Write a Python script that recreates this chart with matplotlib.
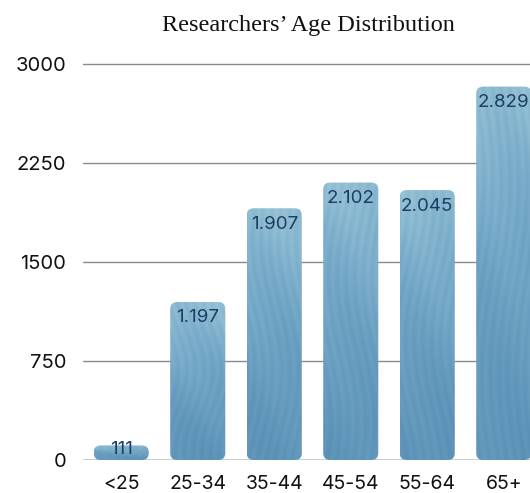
import numpy as np
import matplotlib
matplotlib.use("Agg")
import matplotlib.pyplot as plt
from matplotlib.patches import FancyBboxPatch
from matplotlib.colors import LinearSegmentedColormap

categories = ["<25", "25-34", "35-44", "45-54", "55-64", "65+"]
values = [111, 1197, 1907, 2102, 2045, 2829]
y_ticks = [0, 750, 1500, 2250, 3000]
title = "Researchers\u2019 Age Distribution"

W, H, DPI = 530, 493, 100
fig = plt.figure(figsize=(W / DPI, H / DPI), dpi=DPI)

# axes geometry in pixels
ax_left, ax_right = 83, 542
ax_bottom = 33
y_max = 3100
px_per_val = 396 / 3000
ax_h = y_max * px_per_val
ax = fig.add_axes([ax_left / W, ax_bottom / H, (ax_right - ax_left) / W, ax_h / H])
ax.set_xlim(-0.5, len(categories) - 0.5)
ax.set_ylim(0, y_max)

for s in ax.spines.values():
    s.set_visible(False)
ax.set_yticks(y_ticks)
ax.set_yticklabels([str(t) for t in y_ticks])
ax.set_xticks(range(len(categories)))
ax.set_xticklabels(categories)
ax.tick_params(axis="both", length=0, colors="#111111")
ax.tick_params(axis="y", pad=12, labelsize=14.5)
ax.tick_params(axis="x", pad=11, labelsize=14)
for lab in ax.get_xticklabels() + ax.get_yticklabels():
    lab.set_fontfamily("Inter")
ax.yaxis.grid(True, color="#8a8a8a", linewidth=1.0)
ax.set_axisbelow(True)
ax.axhline(0, color="#c8c8c8", linewidth=1.2, zorder=1)

# textured blue fill
cmap = LinearSegmentedColormap.from_list(
    "wave", ["#5a90b5", "#6a9fc1", "#7eb0cc", "#98c3d6"])

def texture(ny=300, nx=80, seed_shift=0.0):
    yy, xx = np.mgrid[0:1:ny * 1j, 0:1:nx * 1j]
    base = 0.15 + 0.75 * yy ** 1.4
    waves = 0.06 * np.sin(40 * (xx + 0.18 * np.sin(6 * yy + seed_shift)))
    swirl = 0.05 * np.sin(9 * yy + 5 * xx + seed_shift)
    return np.clip(base + waves + swirl, 0, 1)

bars = ax.bar(range(len(categories)), values, width=0.72, color="none",
              edgecolor="none")
x_px = (ax_right - ax_left) / len(categories)
r_px = 7
for i, (b, v) in enumerate(zip(bars, values)):
    x0, w = b.get_x(), b.get_width()
    h = b.get_height()
    r_x = r_px / x_px
    aspect = (r_px / px_per_val) / r_x
    patch = FancyBboxPatch((x0, 0), w, h,
                           boxstyle=f"round,pad=0,rounding_size={r_x}",
                           mutation_aspect=aspect,
                           facecolor="none", edgecolor="none", zorder=3)
    ax.add_patch(patch)
    img = ax.imshow(texture(seed_shift=i * 1.3), cmap=cmap, origin="lower",
                    extent=(x0, x0 + w, 0, h), aspect="auto", zorder=3,
                    interpolation="bilinear")
    img.set_clip_path(patch)
    h_px = h * px_per_val
    off = 4 if h_px < 40 else 16
    ax.annotate(f"{v:,}".replace(",", "."), (b.get_x() + w / 2, h),
                xytext=(0, -off), textcoords="offset pixels",
                ha="center", va="center", fontsize=13.5, color="#1d3d63",
                family="Inter", zorder=4)

ax.set_xlim(-0.5, len(categories) - 0.5)
ax.set_ylim(0, y_max)

fig.text(308 / W, 1 - 25 / H, title, ha="center", va="center",
         fontsize=17.5, family="Liberation Serif", color="#111111")

fig.savefig("out.png", dpi=DPI, facecolor="white")
